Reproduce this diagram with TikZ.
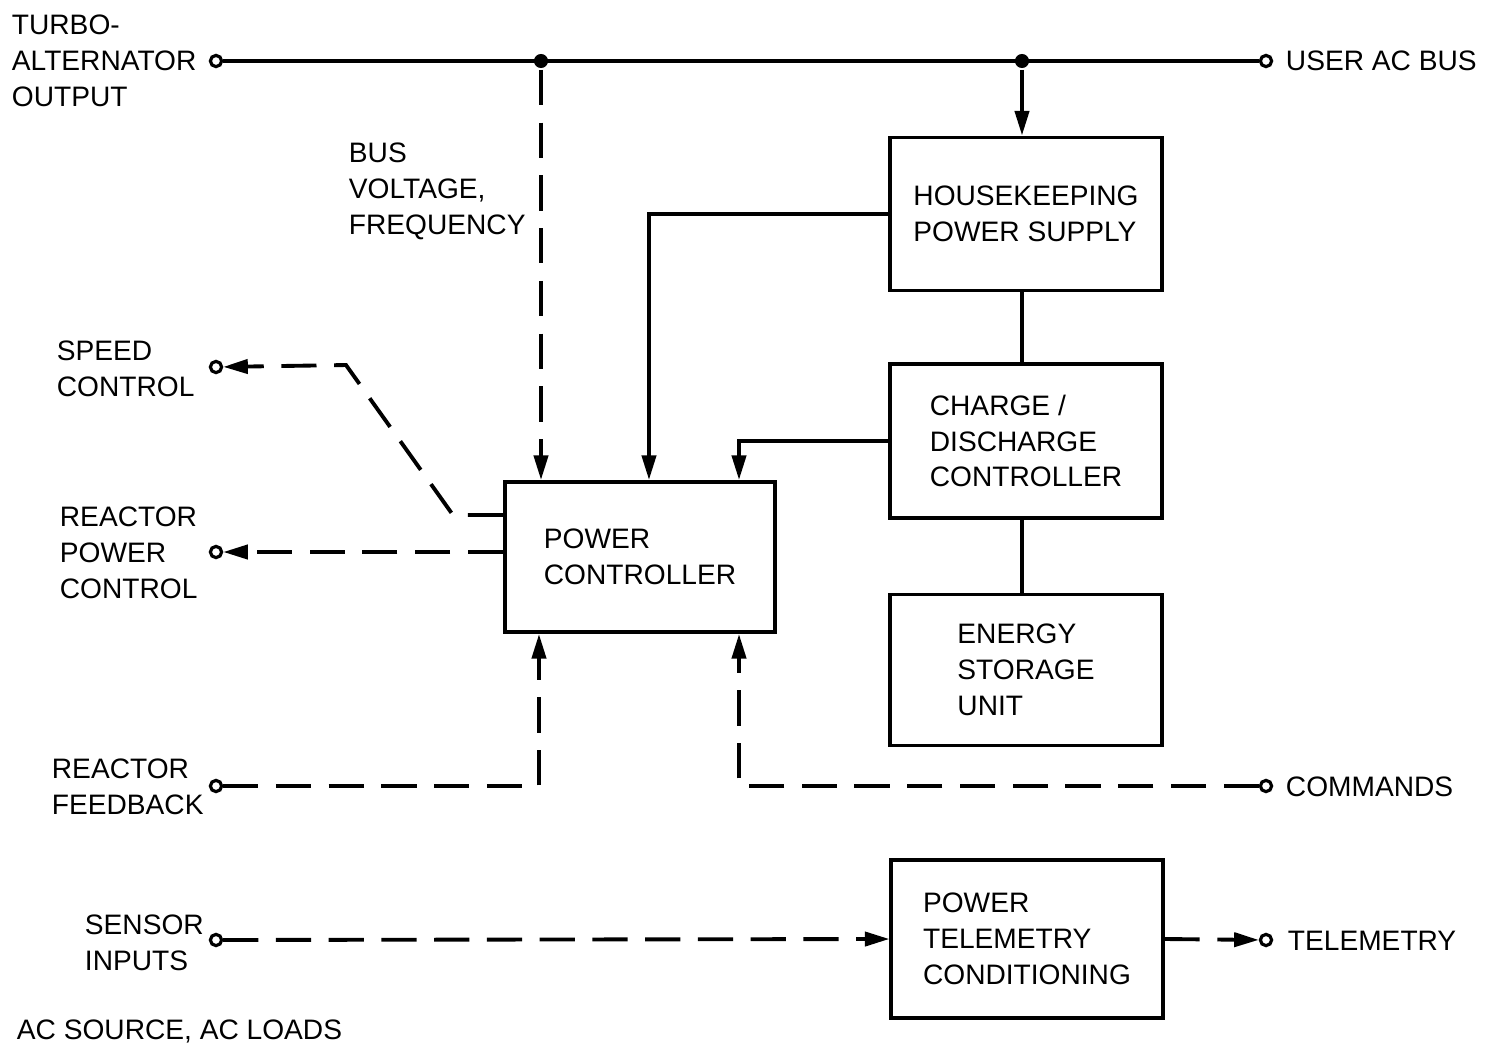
\documentclass[tikz,border=0pt]{standalone}
\usepackage{fontspec}
\setmainfont{Liberation Sans}
\usetikzlibrary{arrows.meta, calc}

\begin{document}
\begin{tikzpicture}[x=0.01cm, y=-0.01cm, line width=1.1pt,
      every node/.style={font=\fontsize{8}{10.2}\selectfont},
      blk/.style={rectangle, draw, minimum width=2.71cm, minimum height=1.53cm,
                  align=left},
      lbl/.style={anchor=west, align=left, inner sep=0pt},
      term/.style={circle, draw, fill=white, inner sep=0pt, minimum size=3.2pt,
                   line width=0.9pt},
      dot/.style={circle, fill, inner sep=0pt, minimum size=4pt},
      sig/.style={dash pattern=on 10pt off 5pt},
      >={Triangle[length=7pt, width=4pt]}]
  \useasboundingbox (0,0) rectangle (1490,1051);

  \node[blk] (hk) at (1026,214) {HOUSEKEEPING\\POWER SUPPLY};
  \node[blk, minimum height=1.54cm] (cd) at (1026,441) {CHARGE /\\DISCHARGE\\CONTROLLER};
  \node[blk, minimum height=1.51cm] (esu) at (1026,670) {ENERGY\\STORAGE\\UNIT};
  \node[blk, minimum width=2.70cm, minimum height=1.50cm] (pc) at (640,557) {POWER\\CONTROLLER};
  \node[blk, minimum height=1.58cm] (ptc) at (1027,939) {POWER\\TELEMETRY\\CONDITIONING};

  \foreach \n/\x/\y in {tin/216/61, uab/1266/61, sc/216/367, rpc/216/552,
                        rf/216/786, cmd/1266/786, si/216/940, tm/1266/940}
    \node[term] (\n) at (\x,\y) {};
  \node[dot] (j1) at (541,61) {};
  \node[dot] (j2) at (1022,61) {};

  \node[lbl] (tal) at (10,61) {TURBO-\\ALTERNATOR\\OUTPUT};
  \node[lbl] (bvf) at (347,191) {BUS\\VOLTAGE,\\FREQUENCY};
  \node[lbl] (scl) at (55,369) {SPEED\\CONTROL};
  \node[lbl] (rpl) at (58,553) {REACTOR\\POWER\\CONTROL};
  \node[lbl] (rfl) at (50,787) {REACTOR\\FEEDBACK};
  \node[lbl] (sil) at (83,943) {SENSOR\\INPUTS};
  \node[lbl] (ual) at (1284,61) {USER AC BUS};
  \node[lbl] (cml) at (1284,787) {COMMANDS};
  \node[lbl] (tml) at (1286,941) {TELEMETRY};
  \node[lbl] (acl) at (15,1031) {AC SOURCE, AC LOADS};

  \draw (tin) -- (uab);
  \draw[->] (j2) -- (j2 |- hk.north);
  \draw (j2 |- hk.south) -- (j2 |- cd.north);
  \draw (j2 |- cd.south) -- (j2 |- esu.north);
  \draw[->] (hk.west) -| ($(pc.north west)+(146,0)$);
  \draw[->] (cd.west) -| ($(pc.north east)+(-38,0)$);

  \draw[sig,->] (j1) -- (j1 |- pc.north);
  \draw[sig,->] ($(pc.north west)+(0,35)$) -- ++(-50,0) -- ++(-107,-150) -- (sc);
  \draw[sig,->] (pc.west |- rpc) -- (rpc);
  \draw[sig,->] (rf) -| ($(pc.south west)+(36,0)$);
  \draw[sig,->] (cmd) -| ($(pc.south east)+(-38,0)$);
  \draw[sig,->] (si) -- (ptc.west);
  \draw[sig,->] (ptc.east) -- (tm);
\end{tikzpicture}
\end{document}
